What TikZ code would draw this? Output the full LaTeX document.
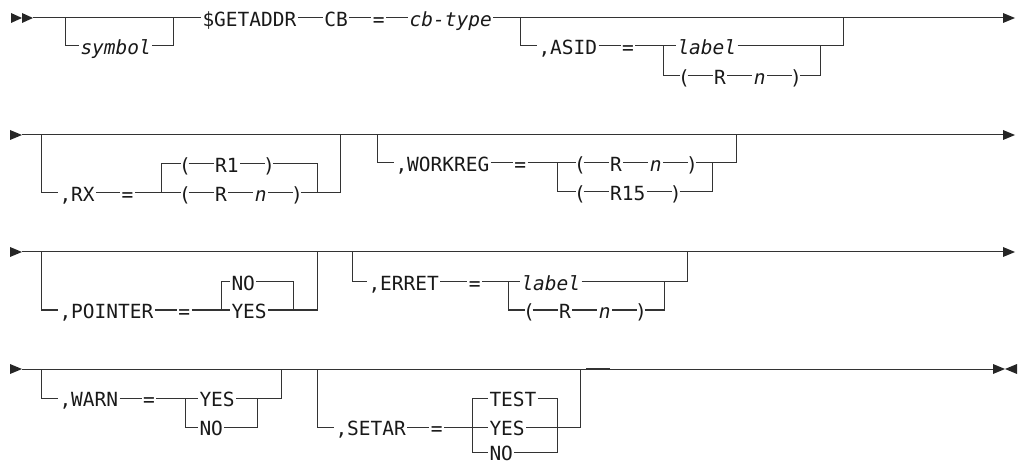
\documentclass[tikz,border=0pt]{standalone}
\usepackage{fontspec}
\newfontfamily\rrfont{DejaVu Sans Mono}
\usetikzlibrary{positioning}

\begin{document}
\begin{tikzpicture}[x=1pt, y=-1pt, line width=1pt, black!80,
        node distance=25pt,
        tok/.style={anchor=west, inner xsep=1pt, inner ysep=0pt,
          text height=17.2pt, text depth=0pt, text=black!90,
          font=\rrfont\fontsize{19.5}{20}\selectfont},
        pun/.style={tok, inner xsep=-2.5pt},
        var/.style={tok, font=\rrfont\itshape\fontsize{19.5}{20}\selectfont},
        tip/.style={fill=black!85}]
      \useasboundingbox (0,0) rectangle (1018,465);

      % row 1: $GETADDR CB=cb-type ,ASID=
      \fill[tip] (11,13) -- (22,18) -- (11,23) -- cycle;
      \fill[tip] (22,13) -- (33,18) -- (22,23) -- cycle;
      \fill[tip] (1003,13) -- (1015,18) -- (1003,23) -- cycle;
      \coordinate (r1s) at (33,18);
      \coordinate (r1e) at (1003,18);
      \coordinate (j1a) at (65,18);
      \coordinate (j1b) at (173,18);
      \node[var] (sym) at (79,46) {symbol};
      \node[tok] (getaddr) at (201,18) {\$GETADDR};
      \node[tok, right=of getaddr] (cb) {CB};
      \node[tok, right=22pt of cb] (eq1) {=};
      \node[var, right=22pt of eq1] (cbtype) {cb-type};
      \draw (r1s) -- (getaddr) -- (cb) -- (eq1) -- (cbtype) -- (r1e);
      \draw (j1a) |- (sym) -| (j1b);

      \coordinate (j2a) at (520,18);
      \coordinate (j2b) at (843,18);
      \coordinate (c2) at (663,46);
      \coordinate (d2) at (820,46);
      \node[tok] (asid) at (537,46) {,ASID};
      \node[tok, right=22pt of asid] (eq2) {=};
      \node[var] (lab1) at (676,46) {label};
      \node[pun] (lp1) at (680,76) {(};
      \node[tok, right=of lp1] (r1) {R};
      \node[var, right=of r1] (n1) {n};
      \node[pun, right=of n1] (rp1) {)};
      \draw (j2a) |- (asid);
      \draw (asid) -- (eq2) -- (lab1);
      \draw (lab1) -| (j2b);
      \draw (c2) |- (lp1);
      \draw (lp1) -- (r1) -- (n1) -- (rp1);
      \draw (rp1) -| (d2);

      % row 2: ,RX= ,WORKREG=
      \fill[tip] (10,130) -- (22,135) -- (10,140) -- cycle;
      \fill[tip] (1003,130) -- (1015,135) -- (1003,140) -- cycle;
      \coordinate (r2s) at (22,135);
      \coordinate (r2e) at (1003,135);
      \draw (r2s) -- (r2e);

      \coordinate (j3a) at (41,135);
      \coordinate (j3b) at (340,135);
      \coordinate (c3) at (161,193);
      \coordinate (d3) at (317,193);
      \node[tok] (rx) at (58,193) {,RX};
      \node[tok, right=24pt of rx] (eq3) {=};
      \node[pun] (lp2) at (181,164) {(};
      \node[tok, right=of lp2] (rr1) {R1};
      \node[pun, right=of rr1] (rp2) {)};
      \node[pun] (lp3) at (181,193) {(};
      \node[tok, right=of lp3] (r2) {R};
      \node[var, right=of r2] (n2) {n};
      \node[pun, right=of n2] (rp3) {)};
      \draw (j3a) |- (rx);
      \draw (rx) -- (eq3) -- (lp3) -- (r2) -- (n2) -- (rp3);
      \draw (c3) |- (lp2);
      \draw (lp2) -- (rr1) -- (rp2);
      \draw (rp2) -| (d3);
      \draw (rp3) -| (j3b);

      \coordinate (j4a) at (377,135);
      \coordinate (j4b) at (736,135);
      \coordinate (c4) at (557,163);
      \coordinate (d4) at (712,163);
      \node[tok] (wreg) at (394,163) {,WORKREG};
      \node[tok, right=22pt of wreg] (eq4) {=};
      \node[pun] (lp4) at (576,163) {(};
      \node[tok, right=of lp4] (r4) {R};
      \node[var, right=of r4] (n4) {n};
      \node[pun, right=of n4] (rp4) {)};
      \node[pun] (lp5) at (576,192) {(};
      \node[tok, right=of lp5] (rr15) {R15};
      \node[pun, right=of rr15] (rp5) {)};
      \draw (j4a) |- (wreg);
      \draw (wreg) -- (eq4) -- (lp4) -- (r4) -- (n4) -- (rp4);
      \draw (rp4) -| (j4b);
      \draw (c4) |- (lp5);
      \draw (lp5) -- (rr15) -- (rp5);
      \draw (rp5) -| (d4);

      % row 3: ,POINTER= ,ERRET=
      \fill[tip] (10,247) -- (22,252) -- (10,257) -- cycle;
      \fill[tip] (1003,247) -- (1015,252) -- (1003,257) -- cycle;
      \coordinate (r3s) at (22,252);
      \coordinate (r3e) at (1003,252);
      \draw (r3s) -- (r3e);

      \coordinate (j5a) at (41,252);
      \coordinate (j5b) at (317,252);
      \coordinate (c5) at (221,310);
      \coordinate (d5) at (293,310);
      \node[tok] (pointer) at (58,310) {,POINTER};
      \node[tok, right=22pt of pointer] (eq5) {=};
      \node[tok] (no5) at (230,282) {NO};
      \node[tok] (yes5) at (230,310) {YES};
      \draw (j5a) |- (pointer);
      \draw (pointer) -- (eq5) -- (yes5);
      \draw (yes5) -| (j5b);
      \draw (c5) |- (no5);
      \draw (no5) -| (d5);

      \coordinate (j6a) at (352,252);
      \coordinate (j6b) at (687,252);
      \coordinate (c6) at (508,282);
      \coordinate (d6) at (664,282);
      \node[tok] (erret) at (367,282) {,ERRET};
      \node[tok, right=27pt of erret] (eq6) {=};
      \node[var] (lab2) at (520,282) {label};
      \node[pun] (lp6) at (525,310) {(};
      \node[tok, right=of lp6] (r6) {R};
      \node[var, right=of r6] (n6) {n};
      \node[pun, right=of n6] (rp6) {)};
      \draw (j6a) |- (erret);
      \draw (erret) -- (eq6) -- (lab2);
      \draw (lab2) -| (j6b);
      \draw (c6) |- (lp6);
      \draw (lp6) -- (r6) -- (n6) -- (rp6);
      \draw (rp6) -| (d6);

      % row 4: ,WARN= ,SETAR=
      \fill[tip] (10,364) -- (22,369) -- (10,374) -- cycle;
      \fill[tip] (993,364) -- (1005,369) -- (993,374) -- cycle;
      \fill[tip] (1017,364) -- (1005,369) -- (1017,374) -- cycle;
      \coordinate (r4s) at (22,369);
      \coordinate (r4e) at (993,369);
      \draw (r4s) -- (r4e);
      \draw[line width=1.8pt] (586,368.4) -- (610,368.4);

      \coordinate (j7a) at (41,369);
      \coordinate (j7b) at (281,369);
      \coordinate (c7) at (185,398);
      \coordinate (d7) at (257,398);
      \node[tok] (warn) at (58,398) {,WARN};
      \node[tok, right=22pt of warn] (eq7) {=};
      \node[tok] (yes7) at (198,398) {YES};
      \node[tok] (no7) at (198,427) {NO};
      \draw (j7a) |- (warn);
      \draw (warn) -- (eq7) -- (yes7);
      \draw (yes7) -| (j7b);
      \draw (c7) |- (no7);
      \draw (no7) -| (d7);

      \coordinate (j8a) at (317,369);
      \coordinate (j8b) at (580,369);
      \coordinate (c8) at (472,427);
      \coordinate (d8) at (557,427);
      \node[tok] (setar) at (334,427) {,SETAR};
      \node[tok, right=22pt of setar] (eq8) {=};
      \node[tok] (test8) at (488,398) {TEST};
      \node[tok] (yes8) at (488,427) {YES};
      \node[tok] (no8) at (488,452) {NO};
      \draw (j8a) |- (setar);
      \draw (setar) -- (eq8) -- (yes8);
      \draw (yes8) -| (j8b);
      \draw (c8) |- (test8);
      \draw (c8) |- (no8);
      \draw (test8) -| (d8);
      \draw (no8) -| (d8);
    \end{tikzpicture}
\end{document}
